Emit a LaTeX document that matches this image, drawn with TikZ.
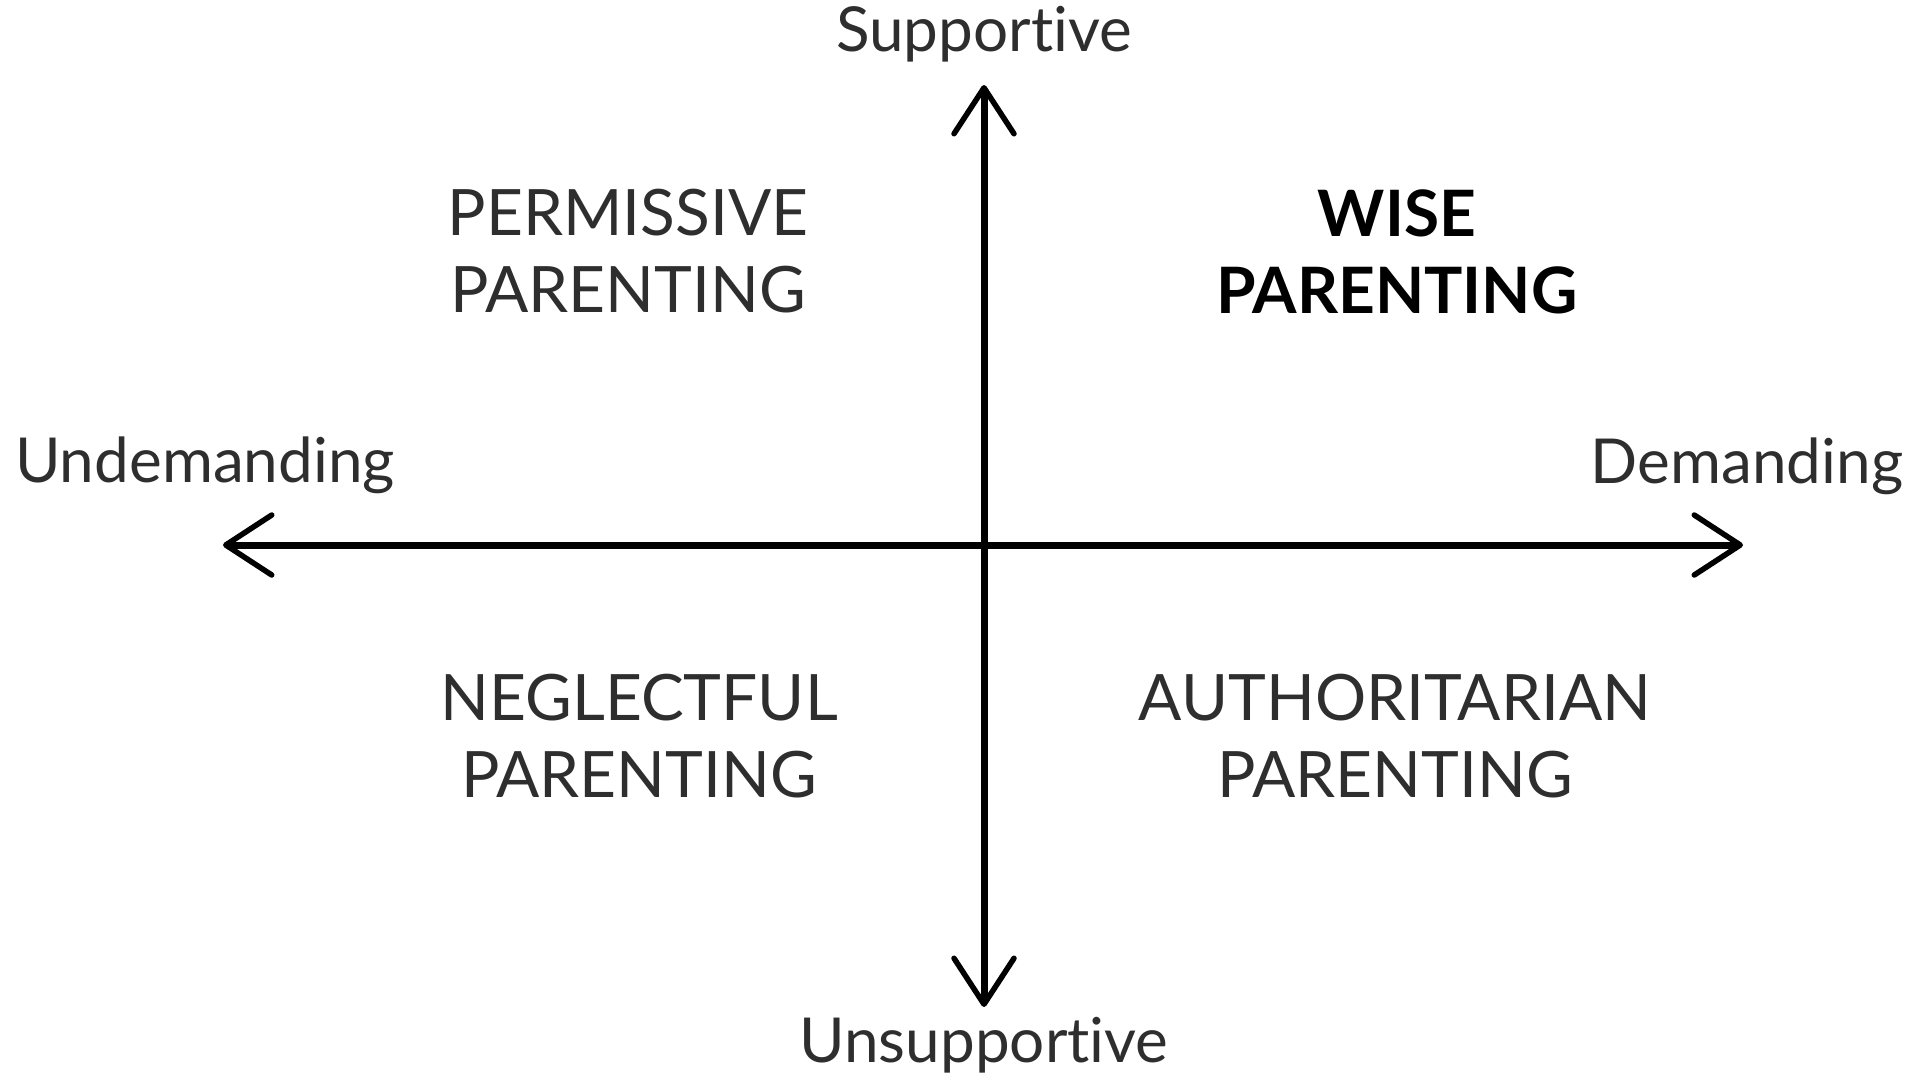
\documentclass[tikz,border=0pt]{standalone}
\usepackage{fontspec}
\setmainfont{Lato}[Ligatures={NoCommon,NoRare,NoDiscretionary}]
\usetikzlibrary{arrows.meta}
\definecolor{txt}{HTML}{2E2E2E}
\tikzset{
  axisline/.style={line width=7pt, black,
    arrows={Straight Barb[length=46pt,width=60pt,line width=5.5pt,round]-Straight Barb[length=46pt,width=60pt,line width=5.5pt,round]}},
  axislabel/.style={anchor=base, inner sep=0pt, text=txt, font=\fontsize{62}{77}\selectfont},
  quad/.style={anchor=base, inner sep=0pt, align=center, text=txt, font=\fontsize{64}{77}\selectfont},
  quadbold/.style={quad, text=black, font=\fontsize{64}{77}\selectfont\bfseries},
}
\begin{document}
\begin{tikzpicture}[x=1pt,y=-1pt]
\useasboundingbox[fill=white] (0,0) rectangle (1911,1080);
\coordinate (top) at (984,85);
\coordinate (bottom) at (984,1007);
\coordinate (left) at (223,545);
\coordinate (right) at (1743,545);
\draw[axisline] (bottom) -- (top);
\draw[axisline] (left) -- (right);
\node[axislabel] (sup) at (984,51) {Supportive};
\node[axislabel] (unsup) at (984,1062) {Unsupportive};
\node[axislabel] (undem) at (205,482) {Undemanding};
\node[axislabel] (dem) at (1747,483) {Demanding};
\node[quad] (perm) at (628,312) {PERMISSIVE\\PARENTING};
\node[quadbold] (wise) at (1397,313) {WISE\\PARENTING};
\node[quad] (negl) at (639,797) {NEGLECTFUL\\PARENTING};
\node[quad] (auth) at (1395,797) {AUTHORITARIAN\\PARENTING};
\end{tikzpicture}
\end{document}
